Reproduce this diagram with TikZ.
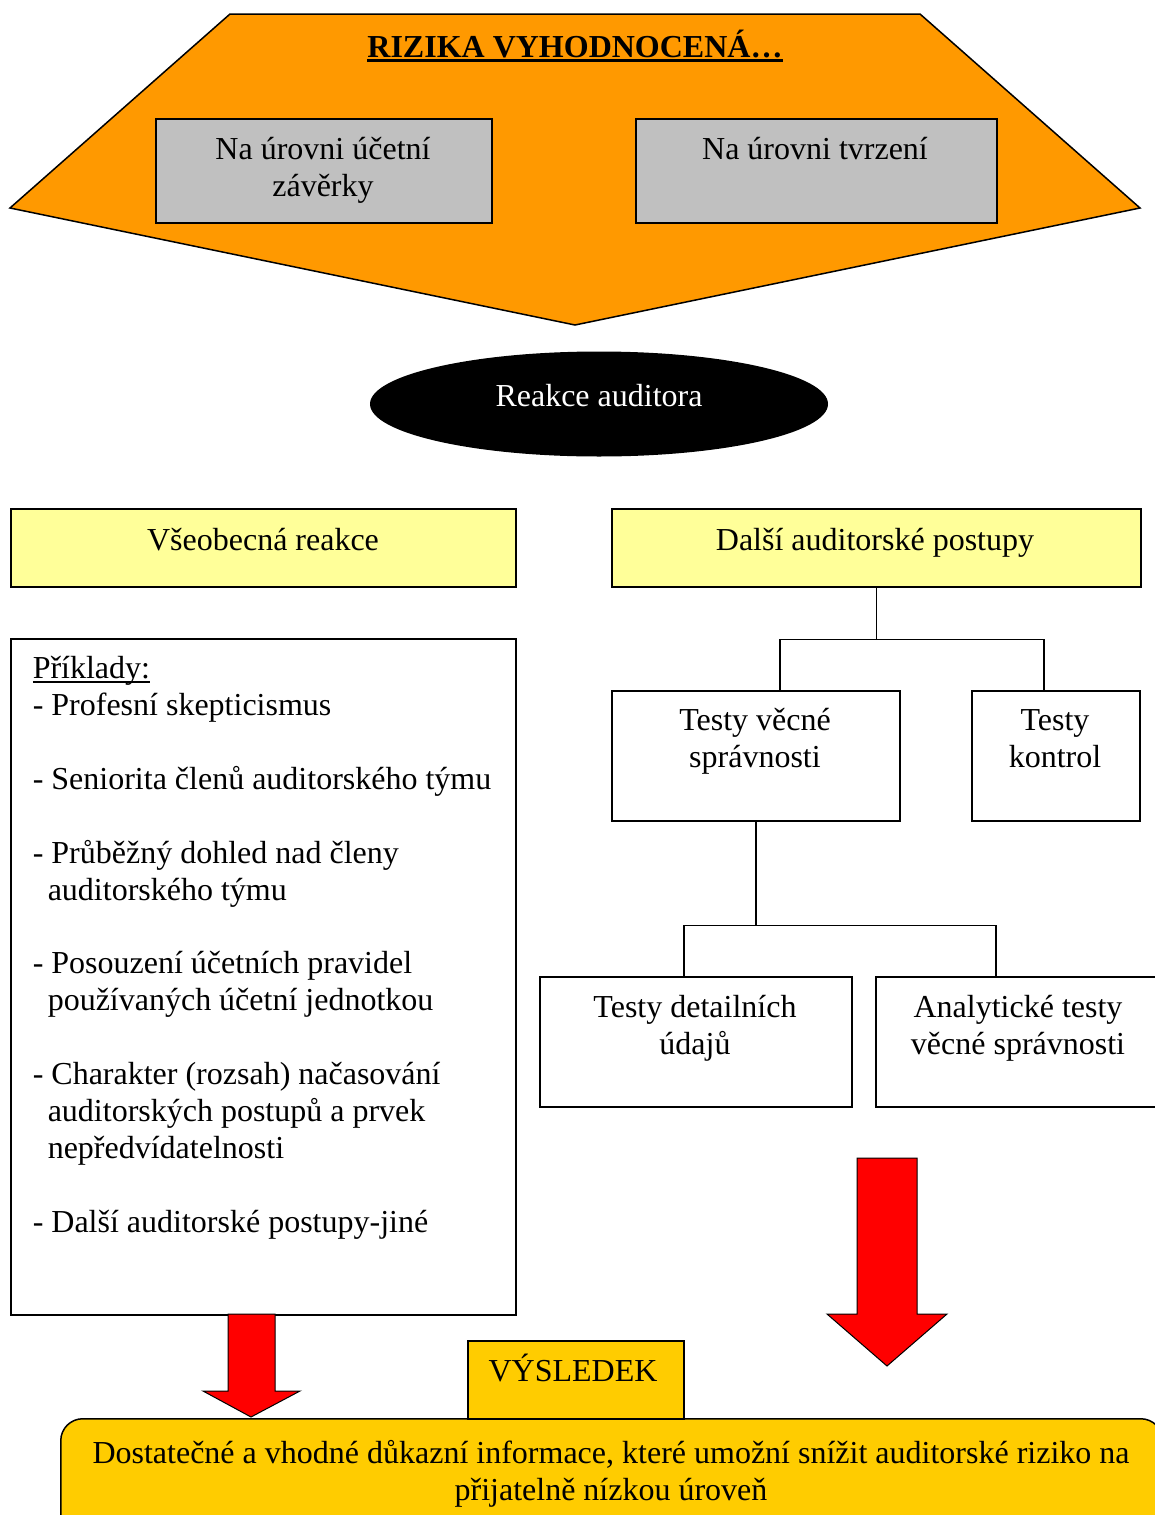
\documentclass[tikz,border=0pt]{standalone}
\usepackage{fontspec}
\setmainfont{Liberation Serif}
\usetikzlibrary{shapes.geometric}
\definecolor{orangeF}{HTML}{FF9900}
\definecolor{grayF}{HTML}{C0C0C0}
\definecolor{yellowF}{HTML}{FFFF99}
\definecolor{goldF}{HTML}{FFCC00}
\definecolor{redF}{HTML}{FF0000}
\newcommand\mystrut{\rule{0pt}{28pt}}
\newcommand\ulinetext[3]{\setbox0\hbox{#3}\rlap{\rule[#1]{\wd0}{#2}}\box0}
\begin{document}
\begin{tikzpicture}[x=1pt,y=-1pt,line width=1.5pt,
  box/.style={draw,line width=1.5pt,inner sep=0,anchor=north west},
  txt/.style={inner sep=0,font=\fontsize{32}{36.9}\selectfont},
  mtxt/.style={txt,align=center,anchor=north},
  conn/.style={draw,line width=1.5pt},
  bigarrow/.style={draw=black,line width=1pt,fill=redF}]
\useasboundingbox (0,0) rectangle (1155,1515);
\fill[white] (0,0) rectangle (1155,1515);
% top shape
\draw[fill=orangeF,line width=1.5pt] (230,14) -- (920,14) -- (1140,208) -- (575,325) -- (10,208) -- cycle;
\node[txt,anchor=base,font=\fontsize{32}{36.9}\selectfont\bfseries] (title) at (575,57) {\ulinetext{-5pt}{3pt}{RIZIKA VYHODNOCENÁ…}};
\node[box,fill=grayF,minimum width=336pt,minimum height=104pt] (g1) at (155,118) {};
\node[mtxt] (g1t) at (323,131) {\mystrut Na úrovni účetní\\závěrky};
\node[box,fill=grayF,minimum width=361pt,minimum height=104pt] (g2) at (635,118) {};
\node[txt,anchor=base] (g2t) at (815,159) {Na úrovni tvrzení};
% ellipse
\node[ellipse,fill=black,minimum width=458pt,minimum height=105pt,inner sep=0] (reakce) at (599,404) {};
\node[txt,anchor=base,text=white] (reakcet) at (599,406) {Reakce auditora};
% yellow boxes
\node[box,fill=yellowF,minimum width=505pt,minimum height=78pt] (vr) at (10,508) {};
\node[txt,anchor=base] (vrt) at (263,550) {Všeobecná reakce};
\node[box,fill=yellowF,minimum width=529pt,minimum height=78pt] (dap) at (611,508) {};
\node[txt,anchor=base] (dapt) at (875,550) {Další auditorské postupy};
% examples box
\node[box,minimum width=505pt,minimum height=676pt] (pr) at (10,638) {};
\node[txt,align=left,anchor=north west] (prt) at (32,650) {\mystrut\ulinetext{-4pt}{1.5pt}{Příklady:}\\
- Profesní skepticismus\\[36.9pt]
- Seniorita členů auditorského týmu\\[36.9pt]
- Průběžný dohled nad členy\\
\hspace*{15pt}auditorského týmu\\[36.9pt]
- Posouzení účetních pravidel\\
\hspace*{15pt}používaných účetní jednotkou\\[36.9pt]
- Charakter (rozsah) načasování\\
\hspace*{15pt}auditorských postupů a prvek\\
\hspace*{15pt}nepředvídatelnosti\\[36.9pt]
- Další auditorské postupy-jiné};
% tree
\node[box,minimum width=288pt,minimum height=130pt] (tvs) at (611,690) {};
\node[mtxt] (tvst) at (755,702) {\mystrut Testy věcné\\správnosti};
\node[box,minimum width=168pt,minimum height=130pt] (tk) at (971,690) {};
\node[mtxt] (tkt) at (1055,702) {\mystrut Testy\\kontrol};
\node[box,minimum width=312pt,minimum height=130pt] (tdd) at (539,976) {};
\node[mtxt] (tddt) at (695,989) {\mystrut Testy detailních\\údajů};
\node[box,minimum width=286pt,minimum height=130pt] (at) at (875,976) {};
\node[mtxt] (att) at (1018,989) {\mystrut Analytické testy\\věcné správnosti};
\draw[conn] (dap.south) -- ++(0,52) coordinate (j1);
\coordinate (tvsIn) at ([xshift=24pt]tvs.north);
\coordinate (tkIn) at ([xshift=-12pt]tk.north);
\draw[conn] (tvsIn) |- (j1) -| (tkIn);
\draw[conn] (tvs.south) -- ++(0,104) coordinate (j2);
\coordinate (tddIn) at ([xshift=-12pt]tdd.north);
\coordinate (atIn) at ([xshift=-23pt]at.north);
\draw[conn] (tddIn) |- (j2) -| (atIn);
% result
\node[box,fill=goldF,rounded corners=22pt,minimum width=1102pt,minimum height=130pt] (res) at (60,1418) {};
\node[mtxt] (rest) at (611,1435) {\mystrut Dostatečné a vhodné důkazní informace, které umožní snížit auditorské riziko na\\přijatelně nízkou úroveň};
\node[box,fill=goldF,minimum width=216pt,minimum height=78pt] (vys) at (467,1340) {};
\node[txt,anchor=base] (vyst) at (573,1381) {VÝSLEDEK};
% arrows
\draw[bigarrow] (857,1158) -- (917,1158) -- (917,1314) -- (947,1314) -- (887,1366) -- (827,1314) -- (857,1314) -- cycle;
\draw[bigarrow] (228,1314) -- (275,1314) -- (275,1391) -- (300,1391) -- (251,1417) -- (203,1391) -- (228,1391) -- cycle;
\end{tikzpicture}
\end{document}
